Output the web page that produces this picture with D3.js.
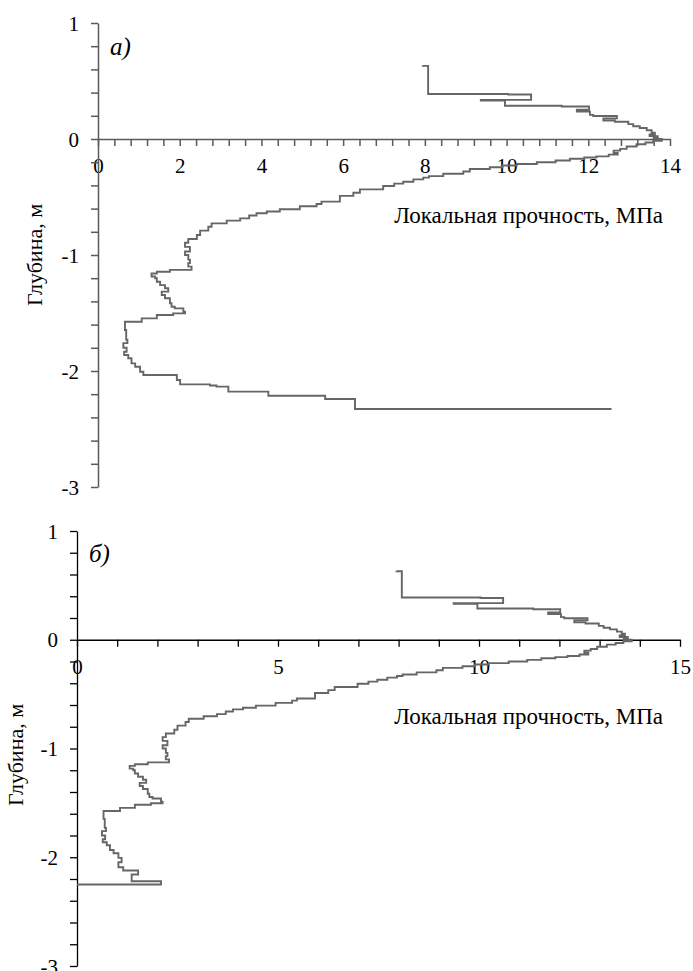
<!DOCTYPE html>
<html>
<head>
<meta charset="utf-8">
<script src="https://cdn.jsdelivr.net/npm/d3@7"></script>
<style>
  body { margin: 0; background: #fff; }
</style>
</head>
<body>
<svg width="693" height="971"></svg>
<script>
// common upper part of the profile: depth (m) where the value starts, strength (MPa)
var depthTop = [0.635, 0.630, 0.388, 0.384, 0.337, 0.331, 0.287, 0.280, 0.252, 0.236,
	0.208, 0.198, 0.178, 0.160, 0.149, 0.128, 0.110, 0.095, 0.075, 0.055,
	0.040, 0.025, 0.010, 0.000, -0.015, -0.030, -0.045, -0.065, -0.085, -0.100,
	-0.120, -0.135, -0.150, -0.160, -0.170, -0.185, -0.200, -0.215, -0.228, -0.244,
	-0.259, -0.280, -0.300, -0.320, -0.333, -0.348, -0.368, -0.385, -0.405, -0.434,
	-0.463, -0.490, -0.540, -0.560, -0.580, -0.606, -0.625, -0.640, -0.660, -0.684,
	-0.704, -0.727, -0.756, -0.790, -0.828, -0.862, -0.895, -0.930, -0.970, -1.000,
	-1.040, -1.070, -1.100, -1.128, -1.145, -1.160, -1.185, -1.200, -1.230, -1.260,
	-1.287, -1.316, -1.345, -1.373, -1.416, -1.446, -1.460, -1.489, -1.503, -1.517,
	-1.546, -1.575, -1.647, -1.730, -1.760, -1.800, -1.834, -1.862, -1.890, -1.934,
	-1.963, -2.006];
var strengthTop = [7.95, 8.08, 10.04, 10.60, 9.37, 9.96, 11.35, 12.02, 11.72, 12.04,
	12.12, 12.70, 12.37, 12.65, 12.98, 13.10, 13.26, 13.43, 13.55, 13.63,
	13.50, 13.70, 13.60, 13.80, 13.59, 13.40, 13.18, 12.94, 12.78, 12.62,
	12.72, 12.50, 12.20, 11.90, 11.55, 11.20, 10.74, 10.25, 9.90, 9.59,
	9.10, 8.94, 8.45, 8.10, 7.96, 7.72, 7.47, 7.25, 6.98, 6.41,
	6.25, 5.92, 5.47, 5.35, 4.94, 4.45, 4.13, 3.88, 3.70, 3.48,
	3.15, 2.78, 2.70, 2.50, 2.42, 2.21, 2.13, 2.25, 2.13, 2.21,
	2.25, 2.21, 2.29, 1.76, 1.44, 1.31, 1.40, 1.44, 1.52, 1.64,
	1.72, 1.56, 1.64, 1.76, 1.80, 1.88, 2.09, 2.13, 1.84, 1.44,
	1.07, 0.66, 0.69, 0.72, 0.62, 0.70, 0.64, 0.74, 0.82, 0.91,
	1.03, 1.11];

// lower end, panel a
var depthTailA = [-2.034, -2.078, -2.115, -2.125, -2.135, -2.178, -2.213, -2.241, -2.328];
var strengthTailA = [1.93, 2.01, 2.74, 2.90, 3.19, 4.17, 5.56, 6.29, 12.57];

// lower end, panel b
var depthTailB = [-2.046, -2.092, -2.122, -2.159, -2.221, -2.250];
var strengthTailB = [1.03, 1.15, 1.52, 1.36, 2.09, 0.00];

var xTicksA = d3.range(0, 36).map(function(i) { return i * 0.4; });
var xTicksB = d3.range(0, 16);
var yTicks = d3.range(-15, 6).map(function(i) { return i / 5; });

var FONT = '"Liberation Serif", "DejaVu Serif", serif';
var svg = d3.select('svg');

function toPoints(depths, values) {
	return depths.map(function(d, i) { return {d: d, v: values[i]}; });
}

var profileA = toPoints(depthTop.concat(depthTailA), strengthTop.concat(strengthTailA));
var profileB = toPoints(depthTop.concat(depthTailB), strengthTop.concat(strengthTailB));

function panel(opt) {
	var x = d3.scaleLinear().domain(opt.xDomain).range(opt.xRange);
	var y = d3.scaleLinear().domain([-3, 1]).range(opt.yRange);
	var g = svg.append('g');

	var xAxis = d3.axisBottom(x)
		.tickValues(opt.xTicks)
		.tickSize(7)
		.tickSizeOuter(0)
		.tickFormat(opt.xFormat);
	var yAxis = d3.axisLeft(y)
		.tickValues(yTicks)
		.tickSize(7)
		.tickSizeOuter(0)
		.tickFormat(function(v) {
			var r = Math.round(v);
			return Math.abs(v - r) < 1e-6 ? String(r) : '';
		});

	var gx = g.append('g')
		.attr('transform', 'translate(0,' + y(0) + ')')
		.call(xAxis);
	var gy = g.append('g')
		.attr('transform', 'translate(' + x(0) + ',0)')
		.call(yAxis);

	[gx, gy].forEach(function(a) {
		a.attr('font-family', null);
		a.selectAll('path, line').attr('stroke', opt.axisColor).attr('stroke-width', opt.axisWidth);
		a.selectAll('text')
			.style('font-family', FONT)
			.style('font-size', '21px')
			.attr('fill', '#000');
	});
	gx.selectAll('text').attr('y', 34).attr('dy', null);
	gy.selectAll('text').attr('x', -19).attr('dy', '0.34em');

	var line = d3.line()
		.x(function(d) { return x(d.v); })
		.y(function(d) { return y(d.d); })
		.curve(d3.curveStepBefore);

	g.append('path')
		.attr('d', line(opt.data))
		.attr('fill', 'none')
		.attr('stroke', '#666')
		.attr('stroke-width', 1.9);

	g.append('text')
		.attr('x', 663)
		.attr('y', y(0) + 84)
		.attr('text-anchor', 'end')
		.style('font-family', FONT)
		.style('font-size', '23px')
		.text('Локальная прочность, МПа');

	g.append('text')
		.attr('transform', 'translate(' + opt.titleX + ',' + opt.titleY + ') rotate(-90)')
		.attr('text-anchor', 'middle')
		.style('font-family', FONT)
		.style('font-size', '22px')
		.text('Глубина, м');

	g.append('text')
		.attr('x', x(0) + 12)
		.attr('y', y(0.8) + 9)
		.style('font-family', FONT)
		.style('font-size', '25px')
		.style('font-style', 'italic')
		.text(opt.label);
}

panel({
	xDomain: [0, 14], xRange: [98, 670], yRange: [487, 23],
	xTicks: xTicksA,
	xFormat: function(v) { var r = Math.round(v); return (Math.abs(v - r) < 1e-6 && r % 2 === 0) ? r : ''; },
	axisColor: '#5a5a5a', axisWidth: 1.5,
	data: profileA, titleX: 42, titleY: 255, label: 'а)'
});

panel({
	xDomain: [0, 15], xRange: [77, 680], yRange: [966, 531],
	xTicks: xTicksB,
	xFormat: function(v) { return v % 5 === 0 ? v : ''; },
	axisColor: '#000', axisWidth: 1.3,
	data: profileB, titleX: 23, titleY: 755, label: 'б)'
});
</script>
</body>
</html>
